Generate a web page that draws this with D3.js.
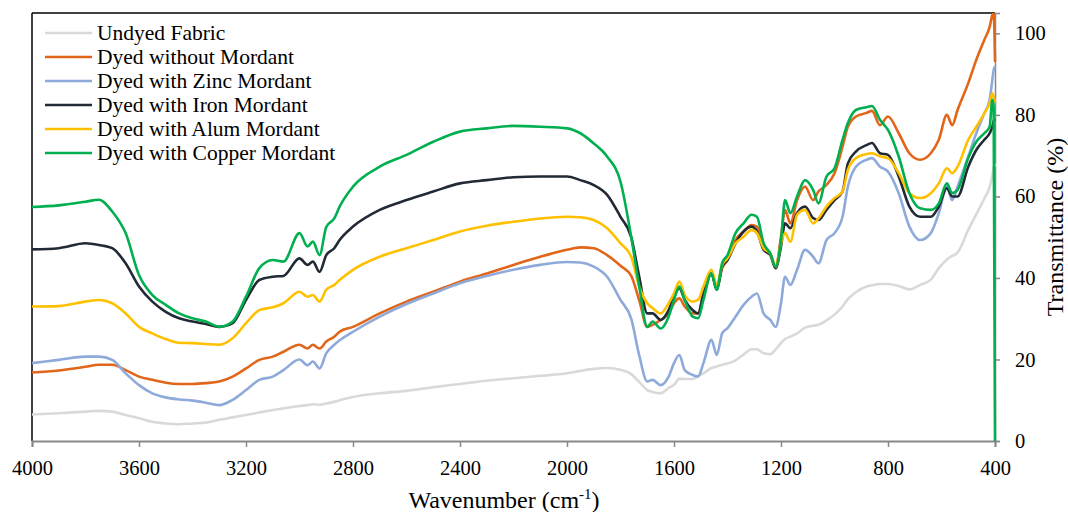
<!DOCTYPE html>
<html><head><meta charset="utf-8">
<script src="https://cdn.jsdelivr.net/npm/d3@7/dist/d3.min.js"></script>
</head>
<body style="margin:0;background:#fff">
<svg id="fig" width="1068" height="512" style="display:block"></svg>
<script>
const wavenumbers = [4000,3900,3800,3750,3700,3650,3600,3550,3500,3450,3400,3350,3300,3250,3200,3150,3100,3060,3000,
 2970,2950,2925,2900,2870,2850,2800,
 2700,2600,2500,2400,2300,2200,2100,2000,
 1950,1900,1850,1800,1760,1730,1700,1680,1650,1620,
 1600,1580,1560,1530,1510,1490,1460,1440,1420,1400,
 1370,1340,1310,1290,1265,1240,1220,1200,1185,1165,
 1140,1110,1080,1060,1030,1000,970,950,920,880,
 860,830,800,760,720,680,640,610,580,560,
 540,500,470,440,420,410,405,400];

const undyed = [6.5,6.8,7.2,7.4,7.2,6.4,5.6,4.7,4.3,4.1,4.3,4.5,5.2,5.8,6.4,7.0,7.6,8.0,8.6,
 8.8,9.0,8.9,9.2,9.6,10.0,10.8,
 11.7,12.3,13.2,14.0,14.8,15.4,16.0,16.6,
 17.2,17.7,17.9,17.5,16.4,14.5,12.5,12.0,11.7,13.0,
 13.8,15.3,15.2,15.2,16.0,16.6,17.9,18.3,18.7,19.0,
 19.8,21.2,22.5,22.5,21.5,21.3,22.5,24.0,25.0,25.6,
 26.4,27.8,28.3,28.5,29.6,31.0,33.0,34.8,36.5,37.9,
 38.2,38.5,38.5,38.0,37.2,38.3,39.6,42.4,44.5,45.4,
 46.2,51.8,55.6,59.5,62.3,65.0,67.0,68.0];

const noMordant = [16.8,17.3,18.2,18.7,18.7,17.4,15.8,15.0,14.3,14.0,14.0,14.2,14.6,15.8,17.8,19.9,20.7,21.9,23.6,
 22.7,23.6,22.7,24.4,25.6,26.8,28.0,
 31.3,34.2,36.6,39.1,41.1,43.2,45.2,46.9,
 47.5,47.3,45.6,43.0,40.5,34.5,28.0,28.5,29.7,31.3,
 33.8,35.0,33.0,31.3,31.3,35.8,41.1,37.5,42.4,44.4,
 49.3,51.4,53.0,52.6,47.3,46.0,42.8,50.1,56.7,53.4,
 59.1,62.4,59.1,61.2,62.8,65.7,72.2,77.1,79.6,80.5,
 81.0,77.5,79.6,75.5,70.6,69.0,70.6,73.9,80.0,77.5,
 81.2,87.8,93.5,98.4,101.6,104.5,105.0,93.0];

const zinc = [19.1,19.9,20.7,20.7,19.9,16.6,13.7,11.7,10.7,10.2,9.9,9.4,8.8,10.1,12.5,15.0,15.8,17.4,20.0,
 18.6,19.5,17.8,21.5,23.6,24.7,26.8,
 30.5,33.6,36.2,38.7,40.5,42.0,43.2,43.9,
 43.8,42.8,40.3,34.6,30.0,21.0,14.6,15.0,13.7,15.8,
 19.1,21.1,17.4,16.2,15.8,19.1,24.8,21.1,26.4,27.7,
 30.5,33.4,35.4,36.2,31.3,29.7,28.0,33.8,40.3,38.3,
 42.0,46.9,45.2,43.6,49.3,51.0,55.0,62.4,67.3,69.0,
 69.4,67.3,66.1,60.8,52.6,49.3,51.0,55.9,62.4,59.1,
 62.4,69.8,75.5,80.4,83.7,88.6,91.0,92.0];

const iron = [47.0,47.3,48.5,48.1,47.3,43.6,37.9,34.2,31.7,30.1,29.3,28.7,28.0,28.9,34.6,39.5,40.3,40.5,44.8,
 43.2,44.0,41.5,45.6,47.3,49.3,52.6,
 56.7,59.1,61.2,63.2,64.0,64.7,64.9,64.9,
 64.0,62.8,60.4,55.0,50.0,40.3,31.3,31.3,29.7,32.1,
 35.4,37.5,34.6,32.1,31.3,36.2,41.1,37.1,42.8,44.4,
 48.5,51.4,52.6,51.4,46.9,45.6,42.4,47.7,53.4,52.2,
 55.9,57.5,54.7,54.2,56.7,59.1,61.2,68.1,71.0,72.6,
 73.1,70.6,70.2,64.9,57.5,55.0,55.0,57.5,62.0,60.0,
 60.0,67.3,71.4,73.9,75.5,77.1,78.5,79.0];

const alum = [33.0,33.1,34.2,34.6,33.8,31.3,28.0,26.4,25.0,24.1,24.0,23.8,23.6,25.2,28.9,32.1,32.8,33.8,36.6,
 35.4,35.8,34.2,37.1,38.3,39.5,42.0,
 45.2,47.3,49.3,51.4,52.8,53.8,54.6,55.0,
 54.9,54.2,52.2,48.5,45.2,37.9,33.8,32.6,31.3,33.8,
 36.2,39.1,35.8,34.2,34.6,37.9,42.0,38.3,43.2,44.8,
 48.5,50.1,51.8,51.0,47.3,46.0,42.8,48.5,51.0,48.9,
 55.5,56.7,53.4,54.6,57.5,59.6,61.2,66.5,69.4,70.4,
 70.6,69.8,69.4,65.7,60.8,59.6,60.8,63.2,66.9,65.7,
 67.3,73.9,77.1,80.4,82.9,85.3,84.5,83.0];

const copper = [57.4,57.8,58.7,59.2,56.3,51.0,40.7,35.8,33.4,31.3,30.1,29.3,28.0,29.3,35.4,42.4,44.4,44.0,51.0,
 47.7,48.9,45.6,52.5,54.6,57.5,62.4,
 67.3,70.2,73.4,75.9,76.7,77.3,77.1,76.7,
 75.5,73.0,69.8,63.6,50.1,37.9,28.0,29.3,27.6,30.5,
 34.6,37.9,34.6,30.5,30.1,34.6,41.1,37.1,43.6,45.6,
 51.0,53.4,55.5,55.0,48.5,46.0,42.8,49.3,59.1,55.9,
 60.0,64.0,61.6,58.3,64.9,66.9,73.9,78.0,81.2,81.9,
 82.2,78.8,76.3,69.8,60.8,57.1,56.7,58.3,63.2,60.8,
 61.6,69.4,73.4,75.5,77.1,83.7,82.0,0.0];

const seriesNames = ["Undyed Fabric","Dyed without Mordant","Dyed with Zinc Mordant","Dyed with Iron Mordant","Dyed with Alum Mordant","Dyed with Copper Mordant"];
const seriesValues = [undyed, noMordant, zinc, iron, alum, copper];
const seriesColors = ["#d9d9d9","#e2661a","#8eaadb","#222a35","#ffc000","#00b050"];

const xTicks = [4000,3600,3200,2800,2400,2000,1600,1200,800,400];
const yTicks = [0,20,40,60,80,100];

const FONT = "'Liberation Serif', Tinos, 'Times New Roman', Times, serif";
function serif(sel, size) {
  sel.attr("font-family", FONT).attr("font-size", size)
     .style("font-family", FONT, "important").style("font-size", size + "px", "important");
  return sel;
}

const svg = d3.select("#fig").attr("font-family", FONT);
const L = 32, R = 995, T = 13, B = 441;
const x = d3.scaleLinear().domain([4000,400]).range([L,R]);
const y = d3.scaleLinear().domain([0,105]).range([B,T]);

svg.append("defs").append("clipPath").attr("id","clip")
  .append("rect").attr("x",L).attr("y",T).attr("width",R-L+4).attr("height",B-T+1);

// frame left & top
svg.append("line").attr("x1",L).attr("x2",L).attr("y1",T).attr("y2",B).attr("stroke","#000").attr("stroke-width",1.5);
svg.append("line").attr("x1",L).attr("x2",R).attr("y1",T).attr("y2",T).attr("stroke","#000").attr("stroke-width",1.5);

// x axis
const xa = svg.append("g").attr("transform",`translate(0,${B})`)
  .call(d3.axisBottom(x).tickValues(xTicks).tickSize(6).tickFormat(d3.format("d")));
xa.attr("font-family", FONT);
xa.select(".domain").attr("stroke","#888").attr("stroke-width",2);
xa.selectAll(".tick line").attr("stroke","#888").attr("stroke-width",1.5);
serif(xa.selectAll("text").attr("y",34).attr("dy",null).attr("fill","#000"), 20.5);

// y axis right
const ya = svg.append("g").attr("transform",`translate(${R},0)`)
  .call(d3.axisRight(y).tickValues(yTicks).tickSize(5).tickPadding(15));
ya.attr("font-family", FONT);
ya.select(".domain").attr("stroke","#888").attr("stroke-width",1.5);
ya.selectAll(".tick line").attr("stroke","#888").attr("stroke-width",1.5);
serif(ya.selectAll("text").attr("fill","#000"), 20.5);

// lines
const line = d3.line().x(d => x(d[0])).y(d => y(d[1])).curve(d3.curveMonotoneX);
const g = svg.append("g").attr("clip-path","url(#clip)");
seriesValues.forEach((vals,i) => {
  g.append("path").datum(wavenumbers.map((w,j)=>[w,vals[j]]))
    .attr("d",line).attr("fill","none").attr("stroke",seriesColors[i])
    .attr("stroke-width",2.6).attr("stroke-linejoin","round");
});

// legend
const lg = svg.append("g");
seriesNames.forEach((n,i) => {
  const yy = 33 + i*24;
  lg.append("line").attr("x1",45).attr("x2",92).attr("y1",yy).attr("y2",yy)
    .attr("stroke",seriesColors[i]).attr("stroke-width",2.6);
  serif(lg.append("text").attr("x",97).attr("y",yy+6.5).attr("fill","#000").text(n), 21.5);
});

// titles
const xt = serif(svg.append("text").attr("x",504).attr("y",508).attr("text-anchor","middle").attr("fill","#000"), 24);
xt.append("tspan").text("Wavenumber (cm");
xt.append("tspan").style("font-size","15px","important").attr("dy",-9).text("-1");
xt.append("tspan").attr("dy",9).text(")");

serif(svg.append("text").attr("transform","translate(1063,227) rotate(-90)")
  .attr("text-anchor","middle").attr("fill","#000").text("Transmittance (%)"), 24);
</script>
</body></html>
